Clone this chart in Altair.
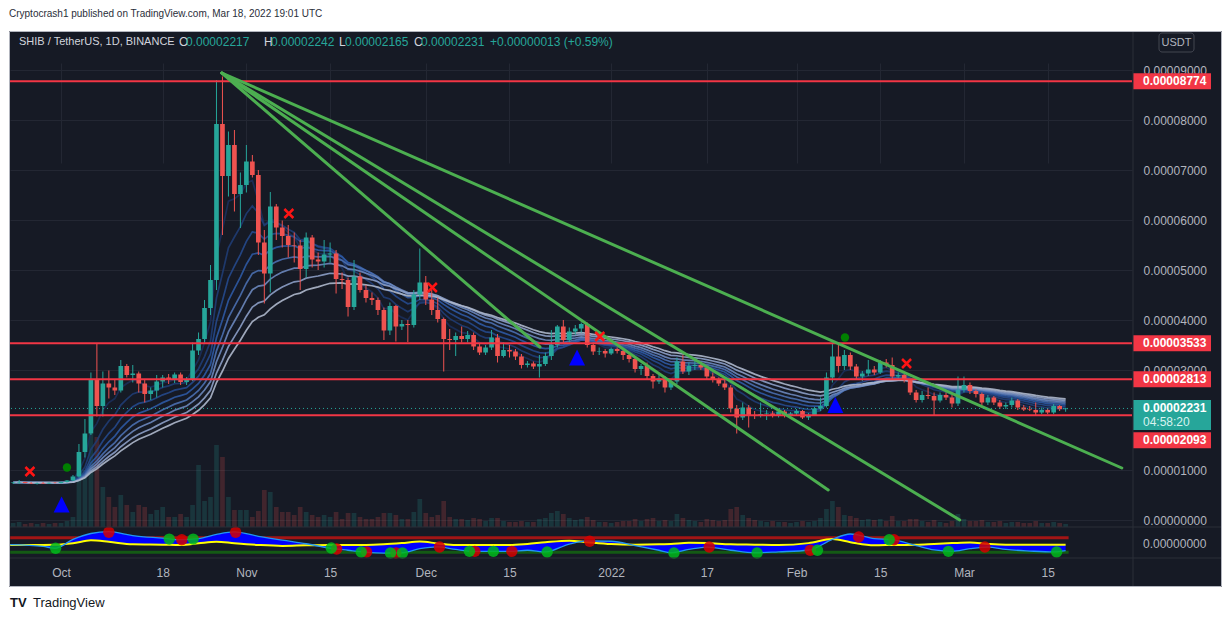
import altair as alt
import pandas as pd

# ---------------- data ----------------
# day index: 0 = 2021-10-01 ... 168 = 2022-03-18 ; prices in units of 1e-5 USDT
days = list(range(-8, 169))

opens = [
    .74, .75, .76, .74, .73, .74, .73, .745, .74, .76,
    .79, .87, 1.36, 1.73, 2.81, 2.28, 2.73, 2.65, 2.59, 3.08,
    2.90, 2.93, 2.73, 2.52, 2.59, 2.77, 2.85, 2.80, 2.91, 2.76,
    2.81, 3.39, 3.62, 4.24, 4.80, 7.92, 6.88, 7.50, 6.52, 6.70,
    7.17, 6.90, 5.55, 4.93, 6.27, 5.85, 5.68, 5.50, 5.49, 5.02,
    5.65, 5.21, 5.17, 5.31, 5.33, 4.82, 4.80, 4.26, 4.87, 4.60,
    4.44, 4.40, 4.20, 3.79, 4.28, 3.87, 3.92, 3.90, 4.51, 4.75,
    4.41, 4.20, 4.02, 3.62, 3.60, 3.68, 3.62, 3.70, 3.47, 3.35,
    3.45, 3.65, 3.28, 3.40, 3.37, 3.27, 3.10, 3.13, 3.07, 3.12,
    3.28, 3.50, 3.87, 3.60, 3.77, 3.83, 3.92, 3.50, 3.37, 3.38,
    3.33, 3.42, 3.38, 3.30, 3.22, 3.02, 3.08, 2.88, 2.77, 2.83,
    2.65, 2.77, 3.17, 2.97, 3.08, 3.10, 3.05, 2.87, 2.80, 2.73,
    2.65, 2.23, 2.05, 2.25, 2.10, 2.08, 2.12, 2.13, 2.10, 2.17,
    2.10, 2.13, 2.18, 2.05, 2.10, 2.23, 2.28, 2.85, 3.27, 3.08,
    3.30, 3.07, 2.87, 2.93, 3.01, 2.95, 3.15, 3.10, 2.87, 2.90,
    2.80, 2.55, 2.40, 2.50, 2.48, 2.39, 2.50, 2.45, 2.33, 2.60,
    2.70, 2.58, 2.52, 2.35, 2.45, 2.35, 2.27, 2.30, 2.39, 2.25,
    2.21, 2.20, 2.15, 2.20, 2.15, 2.28, 2.217,
]
highs = [
    .76, .80, .77, .76, .75, .76, .75, .76, .77, .80,
    .90, 1.52, 2.02, 2.95, 3.53, 2.97, 2.99, 2.80, 3.20, 3.12,
    3.10, 2.97, 2.80, 2.65, 2.90, 2.90, 2.92, 2.95, 2.95, 2.86,
    3.55, 3.75, 4.40, 5.10, 8.80, 8.87, 7.77, 7.80, 6.95, 7.50,
    7.30, 7.00, 5.80, 6.56, 6.32, 5.99, 5.90, 5.75, 5.60, 5.75,
    5.70, 5.35, 5.60, 5.55, 5.40, 4.95, 4.85, 5.20, 4.95, 4.70,
    4.55, 4.45, 4.25, 4.35, 4.30, 4.00, 4.00, 4.60, 5.43, 4.88,
    4.60, 4.45, 4.05, 3.82, 3.75, 3.87, 3.78, 3.75, 3.52, 3.50,
    3.80, 3.72, 3.55, 3.50, 3.42, 3.32, 3.18, 3.17, 3.30, 3.35,
    3.80, 3.90, 4.00, 3.85, 3.90, 3.95, 3.95, 3.55, 3.45, 3.42,
    3.45, 3.45, 3.40, 3.35, 3.25, 3.12, 3.15, 2.92, 2.90, 2.88,
    2.82, 3.25, 3.30, 3.15, 3.18, 3.15, 3.10, 2.95, 2.85, 2.80,
    2.70, 2.30, 2.35, 2.30, 2.18, 2.35, 2.20, 2.18, 2.22, 2.20,
    2.16, 2.22, 2.20, 2.14, 2.26, 2.45, 2.95, 3.55, 3.55, 3.40,
    3.35, 3.12, 2.98, 3.20, 3.08, 3.20, 3.22, 3.25, 2.95, 2.92,
    2.82, 2.60, 2.58, 2.65, 2.55, 2.55, 2.55, 2.50, 2.87, 2.87,
    2.75, 2.62, 2.55, 2.50, 2.48, 2.40, 2.35, 2.45, 2.42, 2.30,
    2.28, 2.35, 2.25, 2.24, 2.32, 2.30, 2.242,
]
lows = [
    .72, .72, .73, .72, .71, .72, .72, .73, .73, .75,
    .78, .85, 1.25, 1.70, 2.07, 2.07, 2.43, 2.50, 2.55, 2.85,
    2.75, 2.55, 2.35, 2.40, 2.45, 2.65, 2.72, 2.74, 2.70, 2.70,
    2.78, 3.30, 3.55, 4.10, 4.60, 5.70, 6.47, 6.17, 5.84, 6.55,
    6.85, 5.30, 4.33, 4.55, 5.60, 5.45, 5.25, 5.15, 4.60, 4.85,
    5.05, 5.00, 5.05, 5.15, 4.53, 4.62, 4.07, 4.20, 4.55, 4.35,
    4.30, 4.10, 3.60, 3.70, 3.57, 3.80, 3.56, 3.85, 4.40, 4.30,
    4.10, 3.95, 2.97, 3.40, 3.28, 3.55, 3.55, 3.40, 3.30, 3.30,
    3.40, 3.15, 3.25, 3.25, 3.20, 3.03, 3.05, 3.02, 2.85, 3.08,
    3.20, 3.45, 3.55, 3.55, 3.70, 3.75, 3.45, 3.30, 3.30, 3.25,
    3.30, 3.33, 3.20, 3.15, 2.95, 2.90, 2.80, 2.63, 2.72, 2.55,
    2.60, 2.72, 2.92, 2.90, 3.00, 3.00, 2.82, 2.75, 2.68, 2.60,
    2.15, 1.73, 2.00, 1.85, 2.02, 2.05, 2.00, 2.05, 2.05, 2.05,
    2.05, 2.08, 2.02, 2.00, 2.08, 2.18, 2.25, 2.75, 2.95, 3.00,
    3.00, 2.82, 2.78, 2.88, 2.90, 2.92, 3.05, 2.80, 2.82, 2.75,
    2.50, 2.35, 2.35, 2.42, 2.10, 2.35, 2.40, 2.25, 2.28, 2.55,
    2.52, 2.45, 2.30, 2.30, 2.30, 2.22, 2.22, 2.25, 2.20, 2.18,
    2.18, 2.10, 2.12, 2.12, 2.12, 2.18, 2.165,
]
closes = [
    .75, .76, .74, .73, .74, .73, .745, .74, .76, .79,
    .87, 1.36, 1.73, 2.81, 2.28, 2.73, 2.65, 2.59, 3.08, 2.90,
    2.93, 2.73, 2.52, 2.59, 2.77, 2.85, 2.80, 2.91, 2.76, 2.81,
    3.39, 3.62, 4.24, 4.80, 7.92, 6.88, 7.50, 6.52, 6.70, 7.17,
    6.90, 5.55, 4.93, 6.27, 5.85, 5.68, 5.50, 5.49, 5.02, 5.65,
    5.21, 5.17, 5.31, 5.33, 4.82, 4.80, 4.26, 4.87, 4.60, 4.44,
    4.40, 4.20, 3.79, 4.28, 3.87, 3.92, 3.90, 4.51, 4.75, 4.41,
    4.20, 4.02, 3.62, 3.60, 3.68, 3.62, 3.70, 3.47, 3.35, 3.45,
    3.65, 3.28, 3.40, 3.37, 3.27, 3.10, 3.13, 3.07, 3.12, 3.28,
    3.50, 3.87, 3.60, 3.77, 3.83, 3.92, 3.50, 3.37, 3.38, 3.33,
    3.42, 3.38, 3.30, 3.22, 3.02, 3.08, 2.88, 2.77, 2.83, 2.65,
    2.77, 3.17, 2.97, 3.08, 3.10, 3.05, 2.87, 2.80, 2.73, 2.65,
    2.23, 2.05, 2.25, 2.10, 2.08, 2.12, 2.13, 2.10, 2.17, 2.10,
    2.13, 2.18, 2.05, 2.10, 2.23, 2.28, 2.85, 3.27, 3.08, 3.30,
    3.07, 2.87, 2.93, 3.01, 2.95, 3.15, 3.10, 2.87, 2.90, 2.80,
    2.55, 2.40, 2.50, 2.48, 2.39, 2.50, 2.45, 2.33, 2.60, 2.70,
    2.58, 2.52, 2.35, 2.45, 2.35, 2.27, 2.30, 2.39, 2.25, 2.21,
    2.20, 2.15, 2.20, 2.15, 2.28, 2.217, 2.231,
]
volumes = [
    40, 50, 30, 40, 30, 40, 30, 40,
    40, 60, 100, 500, 570, 930, 900, 400, 300, 200,
    320, 220, 150, 220, 200, 130, 170, 200, 100, 100,
    130, 100, 220, 620, 260, 300, 820, 700, 300, 170,
    170, 170, 100, 160, 370, 350, 200, 150, 150, 120,
    200, 150, 120, 100, 120, 100, 150, 80, 140, 140,
    100, 80, 80, 100, 140, 140, 120, 80, 80, 150,
    280, 140, 100, 120, 260, 100, 80, 80, 70, 90,
    80, 60, 90, 90, 60, 50, 50, 60, 50, 50,
    80, 90, 140, 160, 130, 90, 70, 80, 100, 70,
    50, 50, 40, 50, 60, 60, 80, 60, 80, 90,
    60, 70, 60, 130, 90, 70, 60, 50, 80, 70,
    60, 70, 180, 200, 120, 90, 70, 60, 50, 60,
    50, 50, 40, 50, 60, 50, 60, 90, 180, 260,
    200, 120, 110, 90, 70, 80, 70, 80, 60, 110,
    60, 60, 80, 80, 60, 50, 70, 50, 40, 60,
    130, 80, 60, 60, 70, 50, 50, 60, 40, 50,
    50, 40, 40, 60, 40, 40, 50, 40, 30,
]

levels = [8.774, 3.533, 2.813, 2.093]
level_texts = ["0.00008774", "0.00003533", "0.00002813", "0.00002093"]
last_close = 2.231
price_ticks = [0, 1, 3, 4, 5, 6, 7, 8, 9]   # 0.00002000 is hidden behind the price labels

trend_start_day = [26.9, 26.9, 26.9, 26.9]
trend_start_val = [8.94, 8.94, 8.94, 8.94]
trend_end_day = [177.4, 150.3, 128.3, 80.1]
trend_end_val = [1.04, 0.0, 0.6, 3.46]

cross_days = [-5.2, 38.1, 62.1, 90.1, 141.4]
cross_vals = [0.97, 6.13, 4.65, 3.67, 3.13]
tri_days = [0.1, 86.3, 129.5]
tri_vals = [0.31, 3.25, 2.30]
gdot_days = [1.0, 131.1]
gdot_vals = [1.05, 3.65]

ema_lengths = [5, 9, 13, 17, 21, 25, 30, 35]

osc_days = [-8.5, -3, -1, 2, 5, 8, 12, 17, 20, 23, 26, 29, 33, 37, 41, 45, 48, 51, 54, 57,
            60, 63, 66, 69, 72, 75, 78, 81, 85, 88, 92, 96, 100, 102, 105, 108, 112, 116, 120, 125,
            129, 132, 136, 139, 143, 146, 149, 152, 155, 158, 162, 166, 168]
osc_wave = [-14, -25, -37, 20, 58, 70, 45, 28, 18, 25, 52, 68, 40, 15, -8, -37, -50, -62, -68, -66,
            -40, -28, -45, -57, -57, -57, -50, -61, -10, 10, 8, -20, -50, -66, -45, -30, -50, -66, -60, -50,
            20, 55, 25, 18, -20, -48, -57, -40, -30, -45, -55, -61, -52]
osc_signal = [-16, -16, -15, -5, 14, 5, -12, -14, -16, -5, 5, -5, -16, -22, -18, -16, -16, -16, -12, -4,
              6, -6, -16, -16, -16, -16, -9, 2, 12, 2, -10, -14, -12, -9, -2, -4, -12, -14, -16, -4,
              22, 2, -18, -16, -14, -9, -4, 0, -9, -14, -14, -14, -14]
osc_upper = 31
osc_lower = -63
odot_days = [-0.9, 8, 18.1, 20.2, 22.1, 29.2, 45.2, 46.1, 50.2, 51.1, 55.1, 56.0, 57.1, 63.3, 68.3, 69.2,
             72.3, 75.4, 81.3, 88.4, 102.5, 108.4, 116.4, 125.3, 126.5, 133.4, 138.5, 139.3, 148.4,
             154.5, 166.5]
odot_vals = [-37, 66, 22, 18, 22, 66, -35, -42, -61, -61, -68, -68, -68, -29, -57, -57,
             -57, -57, -61, 8, -68, -29, -68, -50, -50, 35, 18, 18, -57, -29, -61]
odot_kind = ["g", "r", "g", "r", "g", "r", "g", "r", "g", "r", "g", "r", "g", "r", "g", "r",
             "g", "r", "g", "r", "g", "r", "g", "r", "g", "r", "g", "r", "g", "r", "g"]

tick_days = [0, 17, 31, 45, 61, 75, 92, 108, 123, 137, 151, 165]
tick_labels = ["Oct", "18", "Nov", "15", "Dec", "15", "2022", "17", "Feb", "15", "Mar", "15"]

# ---------------- frames ----------------
SC = 1e-5
n = min(len(days), len(opens), len(highs), len(lows), len(closes), len(volumes))
df = pd.DataFrame({
    "d": days[:n],
    "o": [v * SC for v in opens[:n]],
    "h": [v * SC for v in highs[:n]],
    "l": [v * SC for v in lows[:n]],
    "c": [v * SC for v in closes[:n]],
    "vol": volumes[:n],
})
df["bot"] = df[["o", "c"]].min(axis=1)
df["top"] = df[["o", "c"]].max(axis=1)
df["dir"] = ["up" if c >= o else "down" for o, c in zip(df["o"], df["c"])]
df["x0"] = df["d"] - 0.39
df["x1"] = df["d"] + 0.39
df["zero"] = 0

close_s = pd.Series(closes[:n], dtype=float)
rib = []
for L in ema_lengths:
    e = close_s.ewm(span=L, adjust=False).mean()
    rib.append(pd.DataFrame({"d": days[:n], "v": e.values * SC, "k": L}))
ribdf = pd.concat(rib, ignore_index=True)

trend = pd.DataFrame({"xa": trend_start_day, "ya": [v * SC for v in trend_start_val],
                      "xb": trend_end_day, "yb": [v * SC for v in trend_end_val]})
lev = pd.DataFrame({"v": [v * SC for v in levels], "t": level_texts})
cur = pd.DataFrame({"v": [last_close * SC]})
crosses = pd.DataFrame({"d": cross_days, "v": [v * SC for v in cross_vals]})
tris = pd.DataFrame({"d": tri_days, "v": [v * SC for v in tri_vals]})
gdots = pd.DataFrame({"d": gdot_days, "v": [v * SC for v in gdot_vals]})
osc = pd.DataFrame({"d": osc_days, "w": osc_wave, "s": osc_signal})
odots = pd.DataFrame({"d": odot_days, "v": odot_vals, "k": odot_kind})
obands = pd.DataFrame({"x0": [days[0] - 0.5] * 2, "x1": [days[n - 1] + 0.5] * 2,
                       "v": [osc_upper, osc_lower], "k": ["u", "l"]})
one = pd.DataFrame({"k": [0]})

# ---------------- styles ----------------
FONT = "Liberation Sans"
BG = "#161a25"
UP = "#26a69a"
DOWN = "#ef5350"
GRID = "#232733"
AXL = "#b2b5be"
W, H = 1122, 526
PAD_L, PAD_T, PAD_R, PAD_B = 2, 24, 90, 63

label_expr = " : ".join(f"datum.value == {d} ? '{t}'" for d, t in zip(tick_days, tick_labels)) + " : ''"
xscale = alt.Scale(domain=[-8.53, 179.1], nice=False, zero=False)
xaxis = alt.Axis(values=tick_days, labelExpr=label_expr, grid=True, gridColor=GRID, ticks=False,
                 domain=False, labelPadding=9, labelColor=AXL, labelFontSize=12, labelFont=FONT,
                 title=None, labelOverlap=False, labelFlush=False)
pscale = alt.Scale(domain=[-0.76e-5, 9.76e-5], nice=False, zero=False)
paxis = alt.Axis(orient="right", values=[i * 1e-5 for i in price_ticks], format=".8f", grid=True,
                 gridColor=GRID, ticks=False, domain=False, labelPadding=11, labelColor=AXL,
                 labelFontSize=12, labelFont=FONT, title=None, labelOverlap=False, labelFlush=False)
vscale = alt.Scale(domain=[0, 1000], range=[495, 395])
oscale = alt.Scale(domain=[-100, 100], range=[526, 495])
dirscale = alt.Scale(domain=["up", "down"], range=[UP, DOWN])


def X(f):
    return alt.X(f"{f}:Q", scale=xscale, axis=xaxis)


def Y(f):
    return alt.Y(f"{f}:Q", scale=pscale, axis=paxis)


def OY(f):
    return alt.Y(f"{f}:Q", scale=oscale, axis=None)


# ---------------- volume ----------------
vol_layer = alt.Chart(df).mark_rect(opacity=0.2).encode(
    x=X("x0"), x2="x1",
    y=alt.Y("zero:Q", scale=vscale, axis=None), y2="vol",
    color=alt.Color("dir:N", scale=dirscale, legend=None),
)

# ---------------- price pane ----------------
rib_colors = ["#1b2f5a", "#1f3c73", "#25498c", "#2d59a3", "#4a6fb0", "#6b87bd", "#8c9fc6", "#aeb8cc"]
rib_layers = []
for L, col in zip(ema_lengths, rib_colors):
    rib_layers.append(
        alt.Chart(ribdf).transform_filter(alt.datum.k == L)
        .mark_line(color=col, strokeWidth=1.7, opacity=0.9)
        .encode(x=X("d"), y=Y("v"))
    )

wicks = alt.Chart(df).mark_rule(strokeWidth=1).encode(
    x=X("d"), y=Y("l"), y2="h", color=alt.Color("dir:N", scale=dirscale, legend=None))
bodies = alt.Chart(df).mark_rect().encode(
    x=X("x0"), x2="x1", y=Y("bot"), y2="top", color=alt.Color("dir:N", scale=dirscale, legend=None))

lev_lines = alt.Chart(lev).mark_rule(color="#f23645", strokeWidth=2).encode(y=Y("v"))
cur_line = alt.Chart(cur).mark_rule(color=UP, strokeWidth=1, strokeDash=[1, 3]).encode(y=Y("v"))
trend_lines = alt.Chart(trend).mark_rule(color="#4caf50", strokeWidth=3, strokeCap="round").encode(
    x=X("xa"), y=Y("ya"), x2="xb", y2="yb")

cross_layer = alt.Chart(crosses).mark_point(
    shape="M-1,-1L1,1M-1,1L1,-1", size=81, strokeWidth=2.5, filled=False, color="#ff1414", opacity=1
).encode(x=X("d"), y=Y("v"))
tri_layer = alt.Chart(tris).mark_point(
    shape="M0,-1L1,1L-1,1Z", size=256, filled=True, color="#0000ff", opacity=1, strokeWidth=0
).encode(x=X("d"), y=Y("v"))
gdot_layer = alt.Chart(gdots).mark_circle(size=70, color="#008000", opacity=1).encode(x=X("d"), y=Y("v"))

# price labels on the axis column
lev_main = lev.iloc[:3]
lev_last = lev.iloc[3:]
box_x = alt.value(W + 1)
box_x2 = alt.value(W + 79)
lab_boxes = alt.Chart(lev_main).mark_rect(color="#f23645", yOffset=-8, y2Offset=8).encode(
    x=box_x, x2=box_x2, y=Y("v"), y2="v")
lab_texts = alt.Chart(lev_main).mark_text(align="left", baseline="middle", color="white", font=FONT,
                                          fontSize=12, fontWeight="bold").encode(
    x=alt.value(W + 11), y=Y("v"), text="t:N")
last_box = alt.Chart(lev_last).mark_rect(color="#f23645", yOffset=17, y2Offset=33).encode(
    x=box_x, x2=box_x2, y=Y("v"), y2="v")
last_text = alt.Chart(lev_last).mark_text(align="left", baseline="middle", color="white", font=FONT,
                                          fontSize=12, fontWeight="bold", dy=25).encode(
    x=alt.value(W + 11), y=Y("v"), text="t:N")
cur_box = alt.Chart(cur).mark_rect(color=UP, yOffset=-8.5, y2Offset=21.5).encode(
    x=box_x, x2=box_x2, y=Y("v"), y2="v")
cur_t1 = alt.Chart(cur).mark_text(align="left", baseline="middle", color="white", font=FONT,
                                  fontSize=12, fontWeight="bold").encode(
    x=alt.value(W + 11), y=Y("v"), text=alt.value("0.00002231"))
cur_t2 = alt.Chart(cur).mark_text(align="left", baseline="middle", color="#d8f3ef", font=FONT,
                                  fontSize=12, dy=14).encode(
    x=alt.value(W + 11), y=Y("v"), text=alt.value("04:58:20"))

price_group = alt.layer(
    *rib_layers, wicks, bodies, lev_lines, trend_lines, cur_line,
    cross_layer, tri_layer, gdot_layer,
    lab_boxes, lab_texts, last_box, last_text, cur_box, cur_t1, cur_t2,
)

# ---------------- oscillator pane ----------------
oband_u = alt.Chart(obands).transform_filter(alt.datum.k == "u").mark_rule(
    color="#a31515", strokeWidth=3).encode(x=X("x0"), x2="x1", y=OY("v"))
oband_l = alt.Chart(obands).transform_filter(alt.datum.k == "l").mark_rule(
    color="#145a14", strokeWidth=3).encode(x=X("x0"), x2="x1", y=OY("v"))
o_area = alt.Chart(osc).mark_area(color="#0000ff", interpolate="monotone", opacity=1).encode(
    x=X("d"), y=OY("w"), y2="s")
o_sig = alt.Chart(osc).mark_line(color="#ffff00", strokeWidth=2, interpolate="monotone").encode(
    x=X("d"), y=OY("s"))
o_wave = alt.Chart(osc).mark_line(color="#2196f3", strokeWidth=1.3, interpolate="monotone").encode(
    x=X("d"), y=OY("w"))
o_red = alt.Chart(odots).transform_filter(alt.datum.k == "r").mark_circle(
    size=130, color="#d50000", opacity=0.85).encode(x=X("d"), y=OY("v"))
o_green = alt.Chart(odots).transform_filter(alt.datum.k == "g").mark_circle(
    size=130, color="#00b81c", opacity=0.85).encode(x=X("d"), y=OY("v"))
osc_group = alt.layer(oband_l, oband_u, o_area, o_sig, o_wave, o_red, o_green)


# ---------------- decoration ----------------
def vtext(txt, x, y, color, size=12, align="left", weight="normal", font=FONT, baseline="middle"):
    return alt.Chart(one).mark_text(align=align, baseline=baseline, color=color, fontSize=size,
                                    font=font, fontWeight=weight).encode(
        x=alt.value(x), y=alt.value(y), text=alt.value(txt))


white_top = alt.Chart(one).mark_rect(color="white").encode(
    x=alt.value(-PAD_L), x2=alt.value(W + PAD_R), y=alt.value(-PAD_T), y2=alt.value(-1))
white_bot = alt.Chart(one).mark_rect(color="white").encode(
    x=alt.value(-PAD_L), x2=alt.value(W + PAD_R), y=alt.value(H + 29), y2=alt.value(H + PAD_B))
white_left = alt.Chart(one).mark_rect(color="white").encode(
    x=alt.value(-PAD_L), x2=alt.value(-1), y=alt.value(-PAD_T), y2=alt.value(H + PAD_B))
border = alt.Chart(one).mark_rect(fillOpacity=0, stroke="#b2b5be", strokeWidth=1).encode(
    x=alt.value(-0.5), x2=alt.value(W + 89.5), y=alt.value(-0.5), y2=alt.value(H + 28.5))
sep_v = alt.Chart(one).mark_rule(color="#2a2e39", strokeWidth=1).encode(
    x=alt.value(W + 1), y=alt.value(0), y2=alt.value(H + 28))
sep_h1 = alt.Chart(one).mark_rule(color="#2a2e39", strokeWidth=1).encode(
    x=alt.value(0), x2=alt.value(W + 89), y=alt.value(495))
sep_h2 = alt.Chart(one).mark_rule(color="#2a2e39", strokeWidth=1).encode(
    x=alt.value(0), x2=alt.value(W + 89), y=alt.value(H))
usdt_box = alt.Chart(one).mark_rect(fillOpacity=0, stroke="#434651", strokeWidth=1, cornerRadius=3).encode(
    x=alt.value(W + 27), x2=alt.value(W + 62), y=alt.value(1), y2=alt.value(20))

title_t = vtext("Cryptocrash1 published on TradingView.com, Mar 18, 2022 19:01 UTC", -1, -18, "#2a2e39",
                size=10)
logo_i = vtext("TV", 0, 571, "#131722", size=13, weight="bold")
logo_t = vtext("TradingView", 23, 571, "#131722", size=13)
usdt_t = vtext("USDT", W + 44.5, 10.5, AXL, size=11, align="center")
osc_lab = vtext("0.00000000", W + 11, 512, AXL, size=12)

hdr = [
    ("SHIB / TetherUS, 1D, BINANCE", 9, "#d1d4dc", 11),
    ("O", 169, "#d1d4dc", 12), ("0.00002217", 176, UP, 12),
    ("H", 254, "#d1d4dc", 12), ("0.00002242", 261, UP, 12),
    ("L", 329, "#d1d4dc", 12), ("0.00002165", 335, UP, 12),
    ("C", 404, "#d1d4dc", 12), ("0.00002231", 411, UP, 12),
    ("+0.00000013 (+0.59%)", 480, UP, 12),
]
hdr_layers = [vtext(t, x, 10, c, size=s) for t, x, c, s in hdr]

decor = [white_top, white_bot, white_left, border, sep_v, sep_h1, sep_h2, usdt_box,
         title_t, logo_i, logo_t, usdt_t, osc_lab, *hdr_layers]

chart = alt.layer(vol_layer, price_group, osc_group, *decor).resolve_scale(
    y="independent", color="independent"
).properties(
    width=W, height=H, background=BG,
    padding={"left": PAD_L, "top": PAD_T, "right": PAD_R, "bottom": PAD_B},
    autosize=alt.AutoSizeParams(type="none"),
).configure_view(stroke=None, fill=BG)

chart.save("out.html", embed_options={"renderer": "svg", "actions": False})
